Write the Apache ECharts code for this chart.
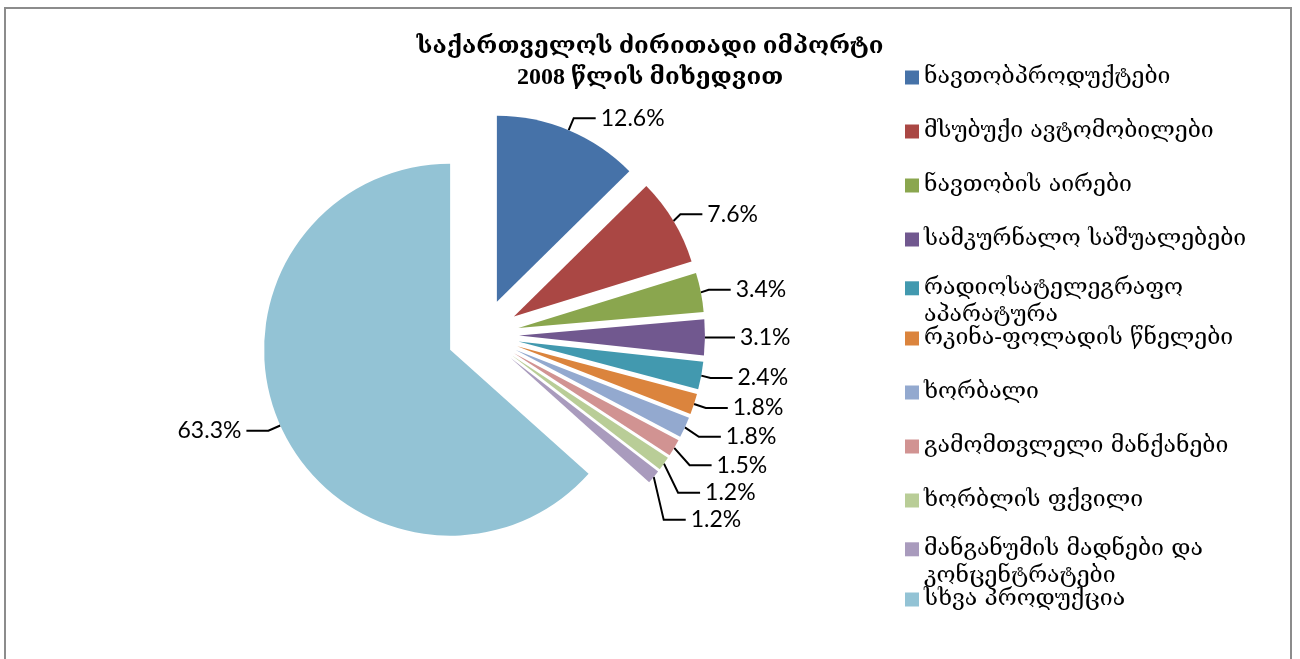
<!DOCTYPE html>
<html>
<head>
<meta charset="utf-8">
<script src="https://cdn.jsdelivr.net/npm/echarts@6/dist/echarts.min.js"></script>
<style>
  html, body { margin: 0; padding: 0; background: #fff; }
  #chart { width: 1300px; height: 659px; }
</style>
</head>
<body>
<div id="chart"></div>
<script>
const TITLE = "საქართველოს ძირითადი იმპორტი\n2008 წლის მიხედვით";

const names = [
    "ნავთობპროდუქტები",
    "მსუბუქი ავტომობილები",
    "ნავთობის აირები",
    "სამკურნალო საშუალებები",
    "რადიოსატელეგრაფო აპარატურა",
    "რკინა-ფოლადის წნელები",
    "ხორბალი",
    "გამომთვლელი მანქანები",
    "ხორბლის ფქვილი",
    "მანგანუმის მადნები და კონცენტრატები",
    "სხვა პროდუქცია",
];
// legend text as it wraps in the picture
const legendLabels = [
    "ნავთობპროდუქტები",
    "მსუბუქი ავტომობილები",
    "ნავთობის აირები",
    "სამკურნალო საშუალებები",
    "რადიოსატელეგრაფო\nაპარატურა",
    "რკინა-ფოლადის წნელები",
    "ხორბალი",
    "გამომთვლელი მანქანები",
    "ხორბლის ფქვილი",
    "მანგანუმის მადნები და\nკონცენტრატები",
    "სხვა პროდუქცია",
];
const shares = [12.6, 7.6, 3.4, 3.1, 2.4, 1.8, 1.8, 1.5, 1.2, 1.2, 63.3];
const colors = ["#4672a8", "#aa4744", "#8aa64e", "#71588f", "#4299af", "#db843d",
    "#93a9cf", "#d19392", "#b9cd97", "#a99bbd", "#93c3d5"];

const GEO_FONT = '"DejaVu Serif", serif';
const LEG_TOP = 66, LEG_PITCH = 52.2, LEG_LINE = 27;

var chart = echarts.init(document.getElementById("chart"), null, { renderer: "canvas" });

var pieData = names.map((n, i) => ({
    name: n,
    value: shares[i],
    selected: true,
    itemStyle: { color: colors[i] },
}));

function isWrapped(i) {
    return legendLabels[i].indexOf("\n") >= 0;
}

// Two-line entries hang their second line into the gap below, as in the picture.
// Each such entry gets a block of its own; an empty first line keeps its icon
// level with the first text line.
function legendBlock(from, to) {
    var wrapped = isWrapped(from);
    return {
        orient: "vertical",
        left: 905,
        top: LEG_TOP + from * LEG_PITCH - (wrapped ? LEG_LINE : 0),
        padding: 0,
        itemWidth: 14,
        itemHeight: 14,
        itemGap: 31,
        icon: "rect",
        selectedMode: false,
        data: names.slice(from, to).map((n, k) =>
            isWrapped(from + k) ? { name: n, textStyle: { lineHeight: LEG_LINE } } : { name: n }),
        formatter: function (name) {
            var i = names.indexOf(name);
            return isWrapped(i) ? "\u00a0\n" + legendLabels[i] : legendLabels[i];
        },
        textStyle: {
            fontFamily: GEO_FONT,
            fontSize: 23,
            color: "#000",
        },
    };
}

chart.setOption({
    backgroundColor: "#fff",
    animation: false,
    title: {
        text: TITLE,
        left: "center",
        top: 26,
        textStyle: {
            fontFamily: '"Liberation Serif", "DejaVu Serif", serif',
            fontSize: 24,
            fontWeight: "bold",
            lineHeight: 31,
            color: "#000",
        },
    },
    legend: [legendBlock(0, 4), legendBlock(4, 5), legendBlock(5, 9), legendBlock(9, 10), legendBlock(10, 11)],
    graphic: [
        {
            type: "rect",
            shape: { x: 5, y: 8, width: 1286, height: 700 },
            style: { fill: null, stroke: "#8c8c8c", lineWidth: 2 },
            silent: true,
        },
    ],
    series: [
        {
            name: "იმპორტი",
            type: "pie",
            center: [483, 335],
            radius: 186,
            startAngle: 90,
            clockwise: true,
            selectedMode: "multiple",
            selectedOffset: 36,
            emphasis: { disabled: true },
            label: {
                show: true,
                position: "outside",
                formatter: function (p) {
                    return p.value.toFixed(1) + "%";
                },
                fontFamily: "Lato, sans-serif",
                fontSize: 23,
                color: "#000",
            },
            labelLine: {
                show: true,
                length: 13,
                length2: 22,
                lineStyle: { color: "#000", width: 2 },
            },
            data: pieData,
        },
    ],
});
</script>
</body>
</html>
